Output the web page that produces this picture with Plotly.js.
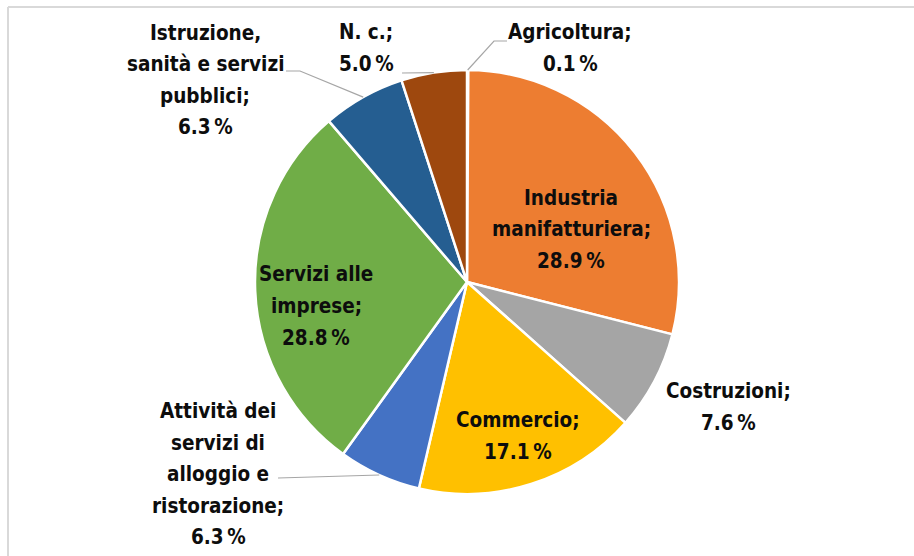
<!DOCTYPE html>
<html>
<head>
<meta charset="utf-8">
<script src="https://cdn.plot.ly/plotly-3.0.1.min.js"></script>
<style>html,body{margin:0;padding:0;background:#fff;}#chart{width:914px;height:556px;}</style>
</head>
<body>
<div id="chart"></div>
<script>
// ---- data ----
var categories = ["Agricoltura", "Industria manifatturiera", "Costruzioni", "Commercio",
  "Attività dei servizi di alloggio e ristorazione", "Servizi alle imprese",
  "Istruzione, sanità e servizi pubblici", "N. c."];
var values = [0.1, 28.9, 7.6, 17.1, 6.3, 28.8, 6.3, 5.0];
var colors = ["#5B9BD5", "#ED7D31", "#A5A5A5", "#FFC000", "#4472C4", "#70AD47", "#255E91", "#9E480E"];
var labelLines = [
  ["Agricoltura;"],
  ["Industria", "manifatturiera;"],
  ["Costruzioni;"],
  ["Commercio;"],
  ["Attività dei", "servizi di", "alloggio e", "ristorazione;"],
  ["Servizi alle", "imprese;"],
  ["Istruzione,", "sanità e servizi", "pubblici;"],
  ["N. c.;"]
];

// ---- layout constants (pixels) ----
var W = 914, H = 556;
var cx = 467, cy = 282, R = 212;
var lineGap = 31.5;
// label block centers (pixels)
var labelPos = [[570, 48], [571, 229], [728, 407], [518, 436], [218, 474], [316, 306], [205, 80], [366, 48]];
// leader line extra points (pixels) per category; null = none
var leaderPts = [
  [[494, 41], [507, 41]],
  null, null, null,
  [[278, 478]],
  null,
  [[300, 71], [286, 71]],
  [[402, 73]]
];

function px(x) { return x / W; }
function py(y) { return 1 - y / H; }

var total = values.reduce(function (a, b) { return a + b; }, 0);
function edgePoint(i) {
  var before = 0;
  for (var k = 0; k < i; k++) before += values[k];
  var a = (before + values[i] / 2) / total * 2 * Math.PI;
  return [cx + R * Math.sin(a), cy - R * Math.cos(a)];
}

var annotations = [];
var fontSpec = {family: "DejaVu Sans Condensed, sans-serif", size: 20.5, color: "#0d0d0d"};
categories.forEach(function (c, i) {
  var lines = labelLines[i].concat([values[i].toFixed(1) + "\u2009%"]);
  var n = lines.length;
  lines.forEach(function (t, j) {
    var y = labelPos[i][1] + (j - (n - 1) / 2) * lineGap;
    annotations.push({
      xref: "paper", yref: "paper", x: px(labelPos[i][0]), y: py(y),
      xanchor: "center", yanchor: "middle", showarrow: false,
      text: "<b>" + t + "</b>", font: fontSpec
    });
  });
});

var shapes = [
  // chart border (top and left)
  {type: "line", xref: "paper", yref: "paper", x0: px(8), x1: px(W), y0: py(7), y1: py(7), line: {color: "#d9d9d9", width: 2}},
  {type: "line", xref: "paper", yref: "paper", x0: px(8), x1: px(8), y0: py(7), y1: py(H), line: {color: "#d9d9d9", width: 2}}
];
leaderPts.forEach(function (pts, i) {
  if (!pts) return;
  var p0 = edgePoint(i);
  var all = [p0].concat(pts);
  var d = all.map(function (p, k) { return (k ? "L" : "M") + px(p[0]) + "," + py(p[1]); }).join(" ");
  shapes.push({type: "path", xref: "paper", yref: "paper", path: d, line: {color: "#a6a6a6", width: 1.2}});
});

var trace = {
  type: "pie",
  labels: categories,
  values: values,
  sort: false,
  direction: "clockwise",
  rotation: 0,
  marker: {colors: colors, line: {color: "#ffffff", width: 2.5}},
  textinfo: "none",
  hoverinfo: "label+percent",
  domain: {x: [px(cx - R), px(cx + R)], y: [py(cy + R), py(cy - R)]}
};

var layout = {
  width: W, height: H,
  margin: {l: 0, r: 0, t: 0, b: 0},
  showlegend: false,
  paper_bgcolor: "#ffffff",
  annotations: annotations,
  shapes: shapes
};

Plotly.newPlot("chart", [trace], layout, {displayModeBar: false, staticPlot: true});
</script>
</body>
</html>
